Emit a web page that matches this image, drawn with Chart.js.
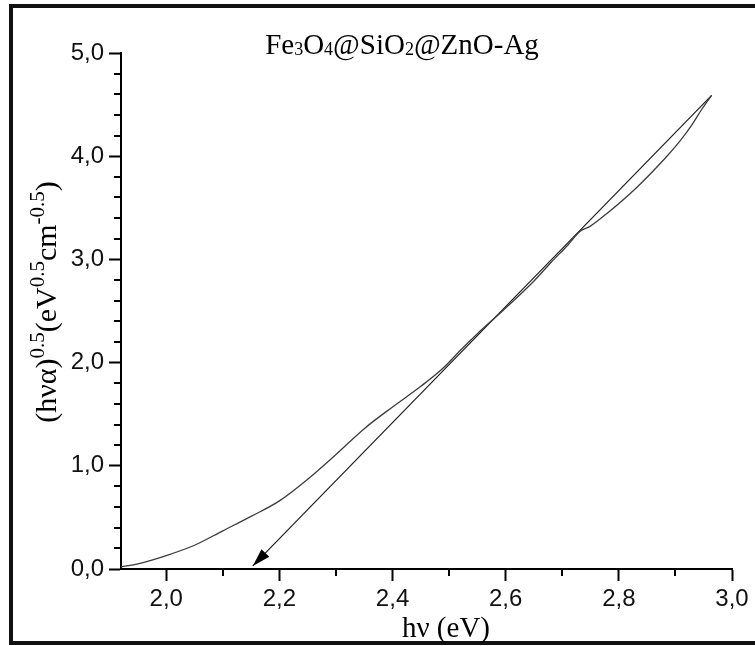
<!DOCTYPE html>
<html>
<head>
<meta charset="utf-8">
<script src="https://cdn.jsdelivr.net/npm/chart.js@4.4.1/dist/chart.umd.min.js"></script>
<style>
  html, body { margin: 0; padding: 0; background: #fff; }
  #wrap { position: relative; width: 755px; height: 646px; }
</style>
</head>
<body>
<div id="wrap"><canvas id="c" width="755" height="646"></canvas></div>
<script>
// Tauc plot: photon energy hν (eV) against (hνα)^0.5
const photonEnergy = [1.92, 1.95, 2.00, 2.05, 2.10, 2.15, 2.20, 2.25, 2.30, 2.35, 2.40, 2.45, 2.49, 2.52, 2.55, 2.58, 2.62, 2.65, 2.68, 2.71, 2.731, 2.749, 2.78, 2.832, 2.885, 2.91, 2.93, 2.946, 2.964];
const taucValue = [0.02, 0.05, 0.13, 0.23, 0.37, 0.51, 0.66, 0.87, 1.11, 1.36, 1.57, 1.77, 1.95, 2.12, 2.28, 2.43, 2.63, 2.79, 2.97, 3.14, 3.27, 3.32, 3.45, 3.70, 4.00, 4.16, 4.31, 4.45, 4.59];

// Linear extrapolation of the absorption edge down to the energy axis
const fitEnergy = [2.964, 2.153];
const fitValue = [4.59, 0.03];

// Axis ticks
const xMajorTicks = [2.0, 2.2, 2.4, 2.6, 2.8, 3.0];
const xMinorTicks = [2.1, 2.3, 2.5, 2.7, 2.9];
const yMajorTicks = [0, 1, 2, 3, 4, 5];
const yMinorTicks = [0.2, 0.4, 0.6, 0.8, 1.2, 1.4, 1.6, 1.8, 2.2, 2.4, 2.6, 2.8, 3.2, 3.4, 3.6, 3.8, 4.2, 4.4, 4.6, 4.8];

const SERIF = '"Liberation Serif", "Times New Roman", serif';
const SANS = '"Liberation Sans", Arial, sans-serif';

const commaLabel = v => Number(v).toFixed(1).replace('.', ',');

// Text made of runs with their own size and vertical shift (sub/superscripts)
function drawRuns(ctx, runs, cx, baseline) {
  let total = 0;
  runs.forEach(r => {
    ctx.font = r.size + 'px ' + SERIF;
    r.w = ctx.measureText(r.t).width;
    total += r.w;
  });
  let x = cx - total / 2;
  ctx.textAlign = 'left';
  ctx.textBaseline = 'alphabetic';
  runs.forEach(r => {
    ctx.font = r.size + 'px ' + SERIF;
    ctx.fillText(r.t, x, baseline + (r.dy || 0));
    x += r.w;
  });
}

const decorations = {
  id: 'decorations',
  beforeDraw(chart) {
    const ctx = chart.ctx;
    ctx.save();
    ctx.fillStyle = '#fff';
    ctx.fillRect(0, 0, chart.width, chart.height);
    // frame around the figure
    ctx.strokeStyle = '#111';
    ctx.lineWidth = 4;
    ctx.beginPath();
    ctx.moveTo(chart.width + 2, 6);
    ctx.lineTo(11, 6);
    ctx.lineTo(11, 643);
    ctx.lineTo(chart.width + 2, 643);
    ctx.stroke();
    ctx.restore();
  },
  afterDraw(chart) {
    const ctx = chart.ctx;
    const xs = chart.scales.x, ys = chart.scales.y;
    const area = chart.chartArea;
    ctx.save();
    // minor ticks
    ctx.strokeStyle = '#000';
    ctx.lineWidth = 2;
    ctx.beginPath();
    xMinorTicks.forEach(v => {
      const px = Math.round(xs.getPixelForValue(v));
      ctx.moveTo(px, area.bottom);
      ctx.lineTo(px, area.bottom + 7);
    });
    yMinorTicks.forEach(v => {
      const py = Math.round(ys.getPixelForValue(v));
      ctx.moveTo(area.left - 7, py);
      ctx.lineTo(area.left, py);
    });
    ctx.stroke();

    // arrow head at the end of the extrapolated line
    const meta = chart.getDatasetMeta(1);
    const p0 = meta.data[meta.data.length - 2], p1 = meta.data[meta.data.length - 1];
    const ang = Math.atan2(p1.y - p0.y, p1.x - p0.x);
    const len = 18, half = 5.5;
    ctx.fillStyle = '#000';
    ctx.beginPath();
    ctx.moveTo(p1.x, p1.y);
    ctx.lineTo(p1.x - len * Math.cos(ang) + half * Math.sin(ang), p1.y - len * Math.sin(ang) - half * Math.cos(ang));
    ctx.lineTo(p1.x - len * Math.cos(ang) - half * Math.sin(ang), p1.y - len * Math.sin(ang) + half * Math.cos(ang));
    ctx.closePath();
    ctx.fill();

    // titles
    ctx.fillStyle = '#000';
    drawRuns(ctx, [
      { t: 'Fe', size: 29 }, { t: '3', size: 18, dy: 1 }, { t: 'O', size: 29 }, { t: '4', size: 18, dy: 1 },
      { t: '@SiO', size: 29 }, { t: '2', size: 18, dy: 1 }, { t: '@ZnO-Ag', size: 29 }
    ], 402, 54);

    drawRuns(ctx, [{ t: 'hν (eV)', size: 29 }], 446, 637);

    ctx.translate(56, 302);
    ctx.rotate(-Math.PI / 2);
    drawRuns(ctx, [
      { t: '(hνα)', size: 30 }, { t: '0.5', size: 21, dy: -12 },
      { t: '(eV', size: 30 }, { t: '0.5', size: 21, dy: -12 },
      { t: 'cm', size: 30 }, { t: '-0.5', size: 21, dy: -12 },
      { t: ')', size: 30 }
    ], 0, 0);
    ctx.restore();
  }
};

new Chart(document.getElementById('c'), {
  type: 'line',
  data: {
    datasets: [
      {
        data: photonEnergy.map((x, i) => ({ x, y: taucValue[i] })),
        borderColor: '#3c3c3c',
        borderWidth: 1.3,
        pointRadius: 0,
        cubicInterpolationMode: 'monotone',
        fill: false
      },
      {
        data: fitEnergy.map((x, i) => ({ x, y: fitValue[i] })),
        borderColor: '#1e1e1e',
        borderWidth: 1.2,
        pointRadius: 0,
        tension: 0,
        fill: false
      }
    ]
  },
  options: {
    responsive: false,
    animation: false,
    devicePixelRatio: 1,
    layout: { padding: { top: 53, right: 23, left: 0, bottom: 0 } },
    plugins: { legend: { display: false }, tooltip: { enabled: false }, title: { display: false } },
    scales: {
      x: {
        type: 'linear',
        min: 1.92,
        max: 3.0,
        afterFit: s => { s.height = 77; },
        afterBuildTicks: s => { s.ticks = xMajorTicks.map(v => ({ value: v })); },
        grid: { drawOnChartArea: false, drawTicks: true, tickLength: 12, tickWidth: 2, tickColor: '#000' },
        border: { display: true, color: '#000', width: 2 },
        ticks: {
          autoSkip: false,
          maxRotation: 0,
          padding: 4,
          color: '#111',
          font: { family: SANS, size: 24 },
          callback: v => commaLabel(v)
        }
      },
      y: {
        type: 'linear',
        min: 0,
        max: 5,
        afterFit: s => { s.width = 121; },
        afterBuildTicks: s => { s.ticks = yMajorTicks.map(v => ({ value: v })); },
        grid: { drawOnChartArea: false, drawTicks: true, tickLength: 12, tickWidth: 2, tickColor: '#000' },
        border: { display: true, color: '#000', width: 2 },
        ticks: {
          autoSkip: false,
          padding: 5,
          color: '#111',
          font: { family: SANS, size: 24 },
          callback: v => commaLabel(v)
        }
      }
    }
  },
  plugins: [decorations]
});
</script>
</body>
</html>
